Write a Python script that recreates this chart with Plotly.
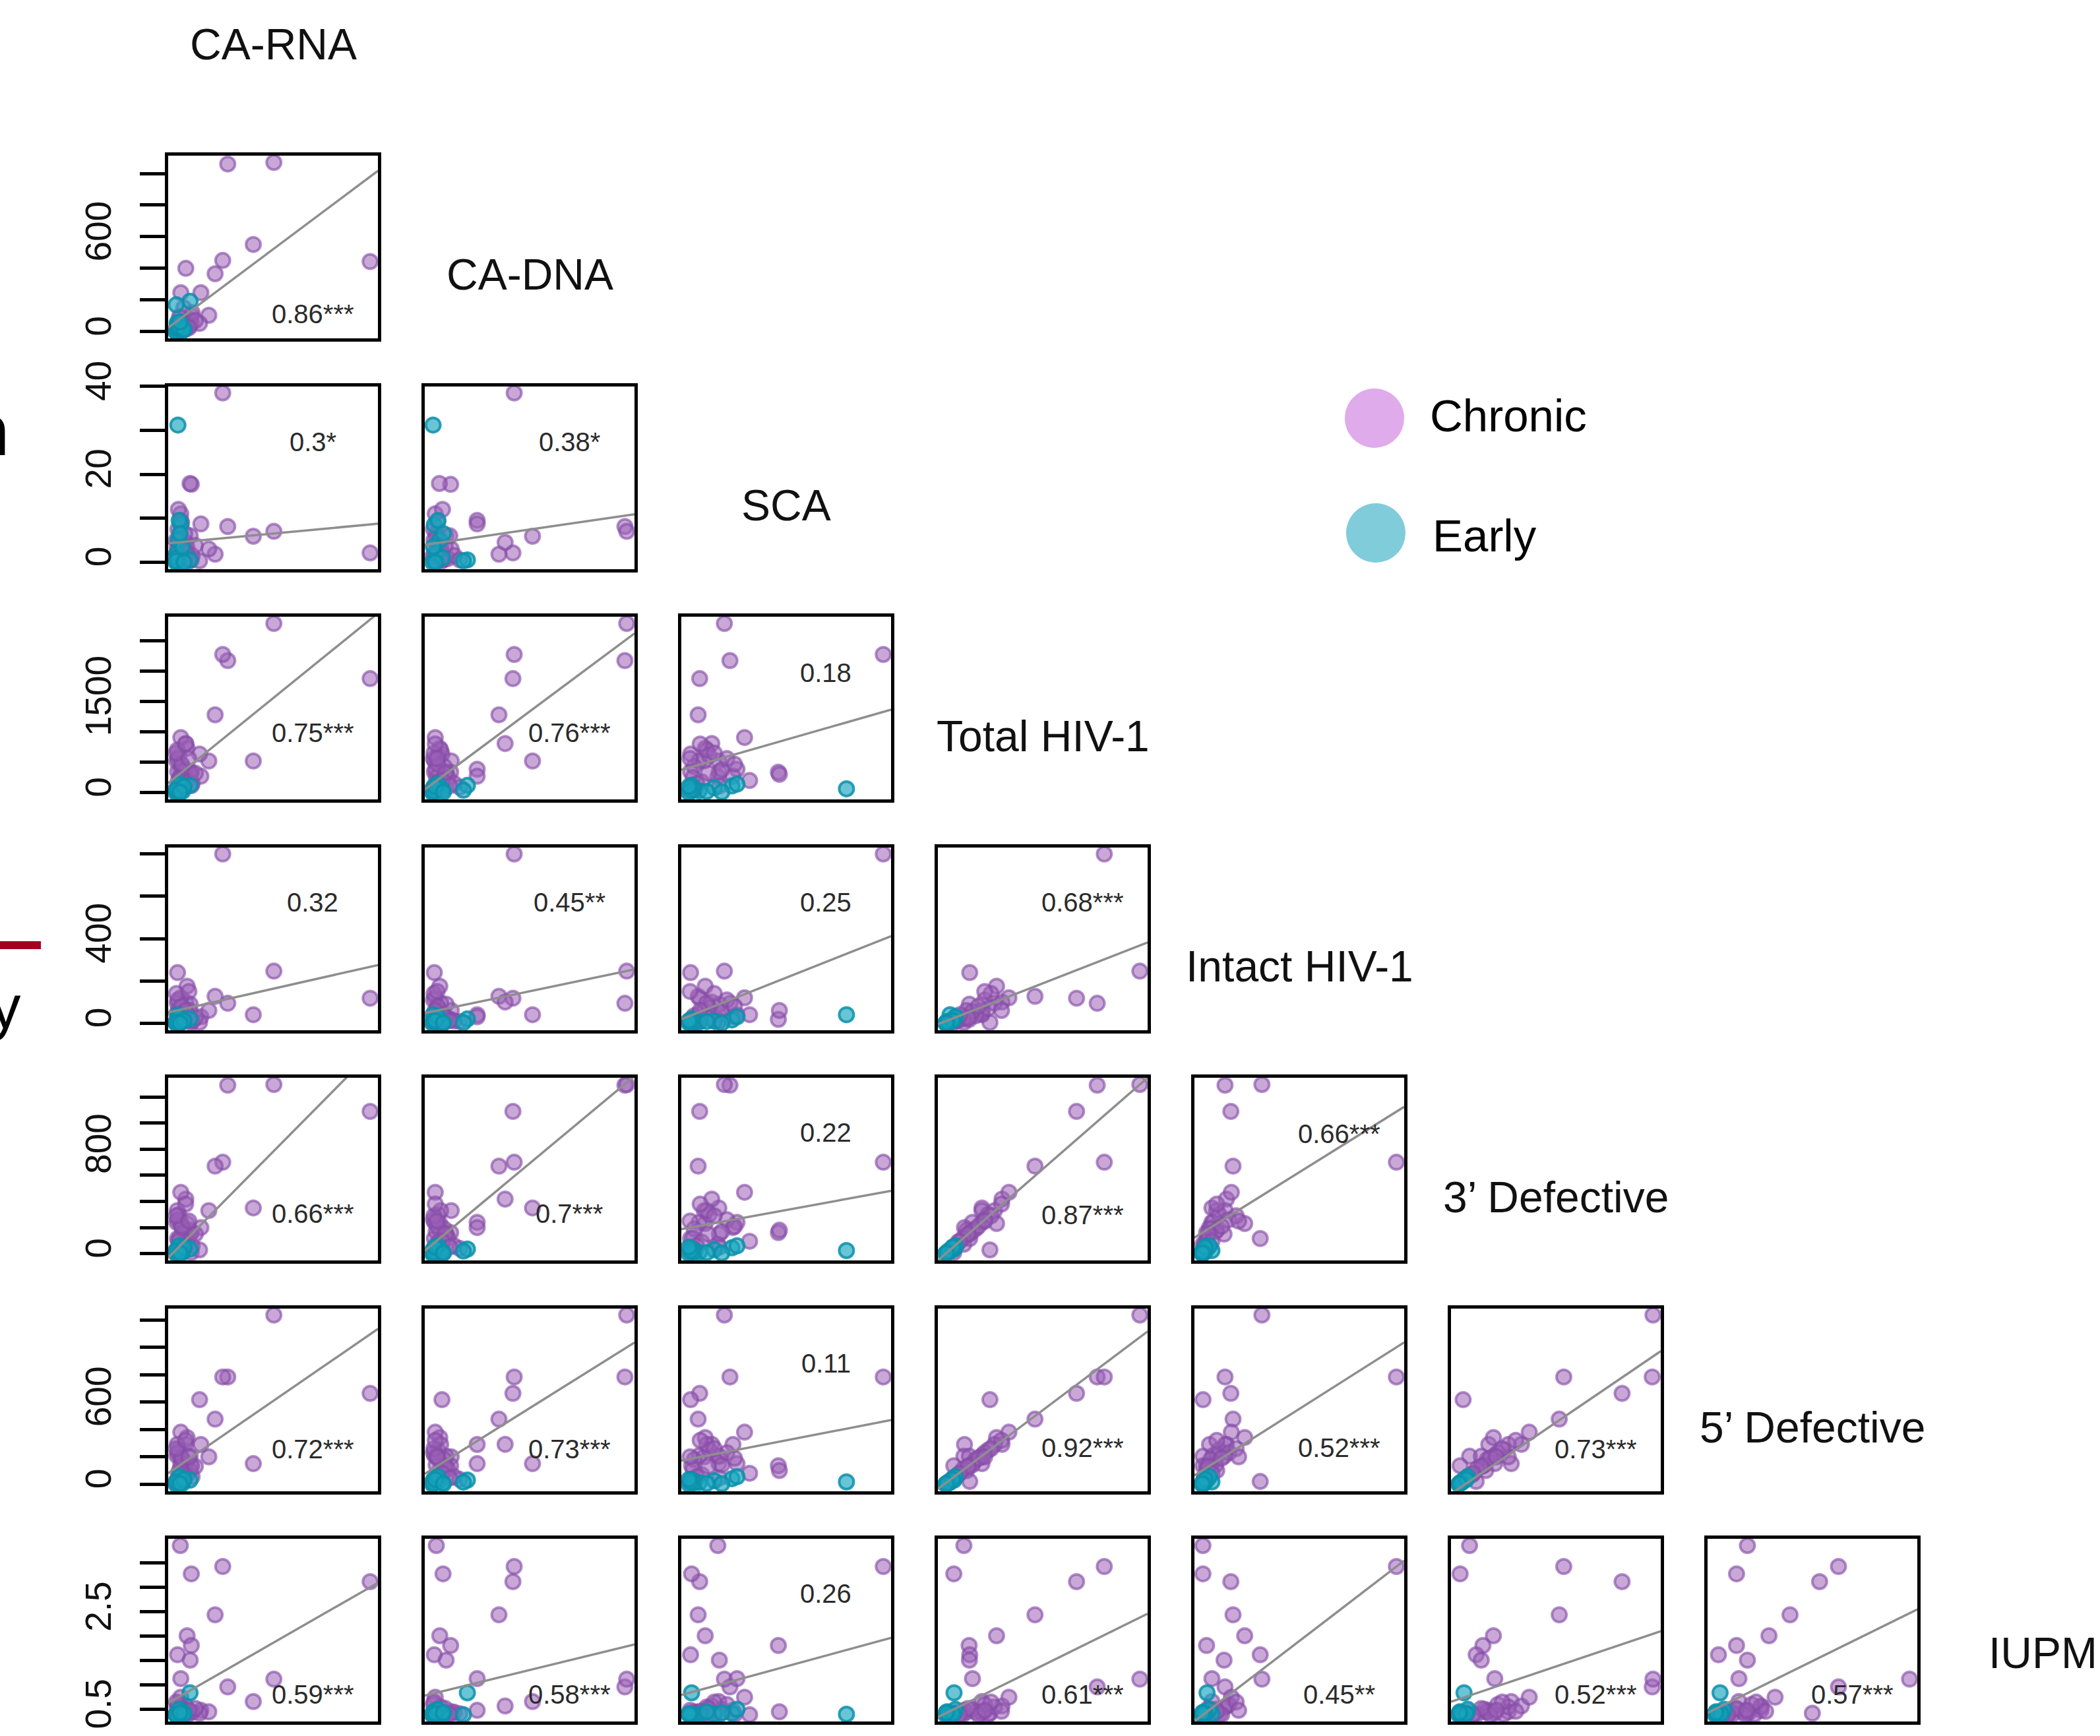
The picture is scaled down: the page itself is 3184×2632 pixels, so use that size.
import plotly.graph_objects as go

# ---------------- data (one value per subject) ----------------
var_labels = ["CA-RNA", "CA-DNA", "SCA", "Total HIV-1", "Intact HIV-1",
              "3\u2019 Defective", "5\u2019 Defective", "IUPM"]

ca_rna = [320, 605, 478, 1200, 289, 242, 61, 30, 154, 203, 27, 95, 69, 95, 10, 88, 87, 146, 30,
          5, 18, 40, 55, 8, 25, 70, 12, 100, 35, 48, 3, 120, 15, 60, 22, 80, 0,
          87, 12, 0, 5, 15, 30, 8, 40, 20, 2, 50, 25]
ca_dna = [1060, 1070, 551, 443, 450, 366, 400, 246, 246, 103, 21, 58, 40, 100, 10, 75, 38, 52, 15,
          12, 30, 65, 20, 45, 85, 35, 5, 120, 28, 150, 8, 70, 55, 15, 95, 25, 0,
          192, 3, 0, 20, 40, 10, 55, 5, 30, 170, 15, 60]
sca = [8.1, 7.0, 5.9, 2.1, 38.5, 1.8, 4.5, 9.5, 8.7, 3.0, 5.7, 0.5, 3.2, 17.7, 0.3, 6.0, 17.9, 0.3, 11.0,
       2.0, 4.0, 1.0, 6.5, 3.5, 0.8, 2.5, 7.5, 1.5, 9.0, 0.5, 5.0, 3.8, 12.0, 2.2, 6.0, 0.2, 1.2,
       0.5, 31.2, 0.0, 2.0, 5.0, 8.5, 1.0, 3.5, 9.5, 0.3, 0.0, 6.5]
total_hiv = [2170, 2780, 520, 1874, 2271, 1279, 807, 384, 270, 520, 261, 117, 729, 336, 345, 340, 300, 634, 906,
             520, 610, 430, 380, 700, 250, 180, 560, 150, 470, 90, 650, 320, 200, 800, 110, 560, 60,
             120, 63, 0, 30, 80, 110, 50, 20, 140, 40, 100, 10]
intact_hiv = [94, 246, 40, 118, 800, 127, 100, 40, 30, 60, 3, 3, 175, 18, 239, 90, 60, 3.4, 120,
              45, 70, 35, 55, 95, 20, 15, 110, 10, 80, 8, 140, 25, 40, 60, 12, 150, 5,
              20, 40, 0, 5, 10, 15, 2, 8, 30, 3, 12, 1]
def3 = [1290, 1295, 350, 1089, 700, 670, 418, 240, 200, 330, 72, 9, 231, 161, 116, 150, 180, 29, 470,
        240, 300, 190, 170, 330, 120, 90, 260, 60, 210, 40, 290, 150, 95, 380, 50, 250, 25,
        35, 24, 0, 10, 30, 45, 15, 8, 60, 20, 50, 5]
def5 = [783, 1235, 150, 663, 783, 475, 291, 150, 290, 200, 204, 135, 341, 135, 20, 204, 100, 617, 380,
        210, 250, 180, 140, 290, 110, 70, 230, 55, 190, 35, 260, 130, 80, 320, 45, 200, 20,
        30, 17, 0, 12, 25, 40, 10, 6, 55, 15, 35, 3]
iupm = [0.96, 1.12, 0.66, 3.12, 3.43, 2.44, 0.57, 1.13, 0.48, 0.45, 3.86, 3.28, 2.01, 1.81, 1.62, 1.51, 0.45, 0.42, 0.75,
        0.42, 0.40, 0.45, 0.50, 0.55, 0.40, 0.39, 0.60, 0.44, 0.39, 0.41, 0.65, 0.52, 0.39, 0.46, 0.40, 0.48, 0.39,
        0.84, 0.40, 0.39, 0.39, 0.40, 0.42, 0.39, 0.45, 0.50, 0.39, 0.41, 0.43]
group = ["Chronic"] * 37 + ["Early"] * 12

# correlation labels, one list per row (row = y variable CA-DNA ... IUPM)
corr_labels = [
    ["0.86***"],
    ["0.3*", "0.38*"],
    ["0.75***", "0.76***", "0.18"],
    ["0.32", "0.45**", "0.25", "0.68***"],
    ["0.66***", "0.7***", "0.22", "0.87***", "0.66***"],
    ["0.72***", "0.73***", "0.11", "0.92***", "0.52***", "0.73***"],
    ["0.59***", "0.58***", "0.26", "0.61***", "0.45**", "0.52***", "0.57***"],
]
# fitted regression lines (intercept, slope)
fit_intercepts = [
    [61],
    [4.45, 4.21],
    [259, 146, 412],
    [59, 55, 33, 9],
    [29, 72, 199, 0, 160],
    [119, 111, 183, 8, 100, -32],
    [0.72, 0.821, 0.837, 0.418, 0.376, 0.709, 0.508],
]
fit_slopes = [
    [0.766],
    [0.00343, 0.00601],
    [2.155, 2.22, 23.8],
    [0.173, 0.179, 9.45, 0.129],
    [1.252, 1.157, 7.03, 0.466, 1.159],
    [0.813, 0.83, 7.12, 0.383, 1.124, 0.745],
    [0.001904, 0.000909, 0.02823, 0.000707, 0.003815, 0.001035, 0.001591],
]
# y-axis ticks of the first column, and which of them carry a label
ytick_values = [
    [0, 200, 400, 600, 800, 1000],
    [0, 10, 20, 30, 40],
    [0, 500, 1000, 1500, 2000, 2500],
    [0, 200, 400, 600, 800],
    [0, 200, 400, 600, 800, 1000, 1200],
    [0, 200, 400, 600, 800, 1000, 1200],
    [0.5, 1.0, 1.5, 2.0, 2.5, 3.0, 3.5, 4.0],
]
ytick_labelled = [
    [0, 600], [0, 20, 40], [0, 1500], [0, 400], [0, 800], [0, 600], [0.5, 2.5],
]
legend_groups = ["Chronic", "Early"]

# ---------------- layout / style constants ----------------
W, H = 3184, 2632
L0, T0, PW, PH, DX, DY = 255, 236, 318, 277, 389, 349.5
FONT = "Liberation Sans, Arial, Helvetica, sans-serif"
label_y = [
    [0.134],
    [0.695, 0.695],
    [0.364, 0.364, 0.694],
    [0.698, 0.698, 0.698, 0.698],
    [0.256, 0.256, 0.70, 0.25, 0.693],
    [0.23, 0.23, 0.697, 0.235, 0.235, 0.23],
    [0.149, 0.149, 0.699, 0.149, 0.149, 0.149, 0.149],
]
pt_style = {
    "Chronic": dict(color="rgba(156,96,184,0.55)", line=dict(color="rgba(132,76,166,0.62)", width=4)),
    "Early": dict(color="rgba(25,165,190,0.65)", line=dict(color="rgba(12,145,170,0.85)", width=4)),
}
legend_color = {"Chronic": "#DFABEA", "Early": "#81CCDA"}

columns = [ca_rna, ca_dna, sca, total_hiv, intact_hiv, def3, def5, iupm]


def px(x):
    return x / W


def py(y):
    return 1 - y / H


def rng(vals):
    lo, hi = min(vals), max(vals)
    pad = 0.04 * (hi - lo)
    return [lo - pad, hi + pad]


def fmt(v):
    return str(int(v)) if float(v).is_integer() else str(v)


fig = go.Figure()
layout_axes = {}
annotations = []
n = 0
for r in range(7):
    yvals = columns[r + 1]
    for c in range(r + 1):
        n += 1
        xvals = columns[c]
        xa = "x" if n == 1 else f"x{n}"
        ya = "y" if n == 1 else f"y{n}"
        xkey = "xaxis" if n == 1 else f"xaxis{n}"
        ykey = "yaxis" if n == 1 else f"yaxis{n}"
        left = L0 + c * DX
        top = T0 + r * DY
        xr = rng(xvals)
        yr = rng(yvals)
        layout_axes[xkey] = dict(domain=[px(left), px(left + PW)], range=xr, anchor=ya,
                                 showline=True, mirror=True, linewidth=5, linecolor="black",
                                 ticks="", showticklabels=False, showgrid=False, zeroline=False,
                                 fixedrange=True, automargin=False)
        yax = dict(domain=[py(top + PH), py(top)], range=yr, anchor=xa,
                   showline=True, mirror=True, linewidth=5, linecolor="black",
                   showgrid=False, zeroline=False, fixedrange=True, automargin=False)
        if c == 0:
            tv = ytick_values[r]
            yax.update(ticks="outside", ticklen=38, tickwidth=5, tickcolor="black",
                       tickvals=tv,
                       ticktext=[fmt(v) if v in ytick_labelled[r] else "" for v in tv],
                       showticklabels=True, tickangle=-90, ticklabelstandoff=22,
                       tickfont=dict(family=FONT, size=55, color="#111111"))
        else:
            yax.update(ticks="", showticklabels=False)
        layout_axes[ykey] = yax

        for g in legend_groups:
            gx = [xv for xv, gg in zip(xvals, group) if gg == g]
            gy = [yv for yv, gg in zip(yvals, group) if gg == g]
            fig.add_trace(go.Scatter(x=gx, y=gy, mode="markers", xaxis=xa, yaxis=ya,
                                     marker=dict(size=22, **pt_style[g]),
                                     cliponaxis=False, showlegend=False, hoverinfo="skip"))
        b = fit_intercepts[r][c]
        m = fit_slopes[r][c]
        fig.add_trace(go.Scatter(x=[xr[0], xr[1]], y=[b + m * xr[0], b + m * xr[1]],
                                 mode="lines", xaxis=xa, yaxis=ya,
                                 line=dict(color="#8e8e8e", width=3.5),
                                 showlegend=False, hoverinfo="skip"))
        annotations.append(dict(text=corr_labels[r][c], showarrow=False,
                                xref=f"{xa} domain", yref=f"{ya} domain",
                                x=0.69, y=label_y[r][c], xanchor="center", yanchor="middle",
                                font=dict(family=FONT, size=40, color="#2b2b2b")))

# diagonal variable names
for k, name in enumerate(var_labels):
    cx = L0 + k * DX + PW / 2
    cy = T0 + (k - 1) * DY + PH / 2 + 42
    if cx + 90 > W:
        annotations.append(dict(text=name, showarrow=False, xref="paper", yref="paper",
                                x=px(W - 2), y=py(cy - 8), xanchor="right", yanchor="middle",
                                font=dict(family=FONT, size=66, color="#111111")))
    else:
        annotations.append(dict(text=name, showarrow=False, xref="paper", yref="paper",
                                x=px(cx), y=py(cy), xanchor="center", yanchor="middle",
                                font=dict(family=FONT, size=66, color="#111111")))

# legend (drawn manually)
shapes = []
leg_pos = {"Chronic": (2084, 634, 2166, 630), "Early": (2086, 808, 2170, 812)}
for g in legend_groups:
    cx, cy, tx, ty = leg_pos[g]
    shapes.append(dict(type="circle", xref="paper", yref="paper",
                       x0=px(cx - 45), x1=px(cx + 45), y0=py(cy + 45), y1=py(cy - 45),
                       fillcolor=legend_color[g], line=dict(width=0)))
    annotations.append(dict(text=g, showarrow=False, xref="paper", yref="paper",
                            x=px(tx), y=py(ty), xanchor="left", yanchor="middle",
                            font=dict(family=FONT, size=69, color="#000000")))

# fragments of neighbouring figure content visible at the left edge
annotations.append(dict(text="<b>n</b>", showarrow=False, xref="paper", yref="paper",
                        x=px(16), y=py(652), xanchor="right", yanchor="middle",
                        font=dict(family=FONT, size=110, color="#000000")))
annotations.append(dict(text="y", showarrow=False, xref="paper", yref="paper",
                        x=px(34), y=py(1527), xanchor="right", yanchor="middle",
                        font=dict(family=FONT, size=93, color="#000000")))
shapes.append(dict(type="rect", xref="paper", yref="paper",
                   x0=0, x1=px(62), y0=py(1439), y1=py(1427),
                   fillcolor="#A5001F", line=dict(width=0)))

fig.update_layout(width=W, height=H, margin=dict(l=0, r=0, t=0, b=0, pad=0, autoexpand=False),
                  paper_bgcolor="white", plot_bgcolor="white", showlegend=False,
                  annotations=annotations, shapes=shapes, **layout_axes)

fig.write_html("out.html", config={"displayModeBar": False},
               post_script="document.body.style.margin='0';document.body.style.overflow='hidden';")
